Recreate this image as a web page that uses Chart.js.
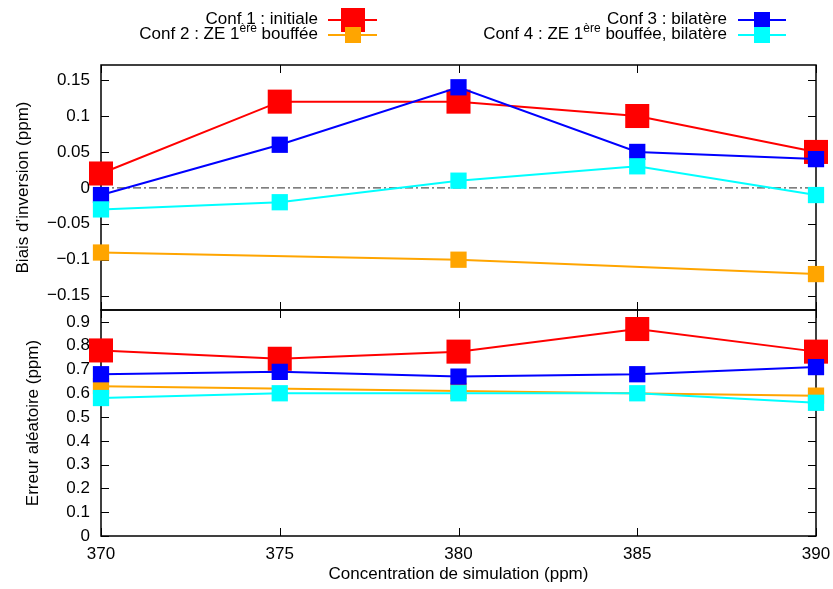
<!DOCTYPE html>
<html>
<head>
<meta charset="utf-8">
<script src="https://cdn.jsdelivr.net/npm/chart.js"></script>
<style>
  html, body { margin: 0; padding: 0; background: #fff; }
  #wrap { position: relative; width: 833px; height: 589px; overflow: hidden; }
  #chart { position: absolute; left: 0; top: 0; }
  .lg-text { position: absolute; font: 17px "Liberation Sans", Arial, sans-serif; color: #000; white-space: nowrap; line-height: 18px; text-align: right; }
  .lg-text sup { font-size: 12px; line-height: 0; vertical-align: 7px; }
  .lg-line { position: absolute; height: 2px; }
  .lg-mark { position: absolute; }
</style>
</head>
<body>
<div id="wrap">
  <canvas id="chart" width="833" height="589"></canvas>
</div>
<script>
// x values (ppm)
const concentrations = [370, 375, 380, 385, 390];
const xTicks = [370, 375, 380, 385, 390];
const biasTicks = [-0.15, -0.1, -0.05, 0, 0.05, 0.1, 0.15];
const errTicks = [0, 0.1, 0.2, 0.3, 0.4, 0.5, 0.6, 0.7, 0.8, 0.9];

const seriesNames = [
  'Conf 1 : initiale',
  'Conf 2 : ZE 1<sup>ère</sup> bouffée',
  'Conf 3 : bilatère',
  'Conf 4 : ZE 1<sup>ère</sup> bouffée, bilatère'
];
const seriesColors = ['#ff0000', '#ffa500', '#0000ff', '#00ffff'];

// biais d'inversion (ppm)
const bias1 = [0.02, 0.12, 0.12, 0.10, 0.05];
const bias2 = [-0.09, null, -0.10, null, -0.12];
const bias3 = [-0.01, 0.06, 0.14, 0.05, 0.04];
const bias4 = [-0.03, -0.02, 0.01, 0.03, -0.01];

// erreur aleatoire (ppm)
const err1 = [0.78, 0.745, 0.775, 0.87, 0.775];
const err2 = [0.63, null, 0.61, null, 0.59];
const err3 = [0.68, 0.69, 0.67, 0.68, 0.71];
const err4 = [0.58, 0.60, 0.60, 0.60, 0.56];

const FONT = '"Liberation Sans", Arial, sans-serif';
const markSize = [17, 11.5, 11.5, 11.5];   // point radius per series

function pts(vals){
  return concentrations.map((x, i) => ({ x: x, y: vals[i] })).filter(p => p.y !== null);
}

function series(i, vals, axis){
  return {
    label: seriesNames[i].replace(/<[^>]+>/g, ''),
    data: pts(vals),
    yAxisID: axis,
    borderColor: seriesColors[i],
    backgroundColor: seriesColors[i],
    borderWidth: 2,
    pointStyle: 'rect',
    pointRadius: markSize[i],
    pointHoverRadius: markSize[i],
    pointBorderWidth: 0,
    pointBackgroundColor: seriesColors[i],
    spanGaps: true,
    clip: false,
    order: 4 - i
  };
}

const datasets = [
  {
    label: 'zero',
    data: [{ x: xTicks[0], y: 0 }, { x: xTicks[xTicks.length - 1], y: 0 }],
    yAxisID: 'yBias',
    borderColor: '#555',
    borderWidth: 1.3,
    borderDash: [8, 3, 2, 3],
    pointRadius: 0,
    order: 10
  },
  series(0, bias1, 'yBias'), series(1, bias2, 'yBias'), series(2, bias3, 'yBias'), series(3, bias4, 'yBias'),
  series(0, err1, 'yErr'), series(1, err2, 'yErr'), series(2, err3, 'yErr'), series(3, err4, 'yErr')
];

const fmt = v => String(v).replace('-', '\u2212');

// gnuplot-style frame with inward ticks on every side of each panel
const framePlugin = {
  id: 'frame',
  beforeDatasetsDraw(chart){
    const c = chart.ctx, area = chart.chartArea, xs = chart.scales.x;
    const tl = 8;
    c.save();
    c.strokeStyle = '#000';
    [['yBias', biasTicks], ['yErr', errTicks]].forEach(([id, tks]) => {
      const s = chart.scales[id];
      c.lineWidth = 1.5;
      c.strokeRect(area.left, s.top, area.right - area.left, s.bottom - s.top);
      c.lineWidth = 1;
      c.beginPath();
      tks.forEach(v => {
        const y = Math.round(s.getPixelForValue(v)) + 0.5;
        c.moveTo(area.left, y); c.lineTo(area.left + tl, y);
        c.moveTo(area.right, y); c.lineTo(area.right - tl, y);
      });
      xTicks.forEach(v => {
        const x = Math.round(xs.getPixelForValue(v)) + 0.5;
        c.moveTo(x, s.top); c.lineTo(x, s.top + tl);
        c.moveTo(x, s.bottom); c.lineTo(x, s.bottom - tl);
      });
      c.stroke();
    });
    c.restore();
  }
};

Chart.defaults.font.family = FONT;
Chart.defaults.font.size = 17;
Chart.defaults.color = '#000';

new Chart(document.getElementById('chart'), {
  type: 'line',
  data: { datasets: datasets },
  options: {
    responsive: false,
    animation: false,
    events: [],
    layout: { padding: { top: 65, right: 17, bottom: 0, left: 0 } },
    plugins: { legend: { display: false }, tooltip: { enabled: false } },
    scales: {
      x: {
        type: 'linear',
        min: 370, max: 390,
        grid: { display: false, drawTicks: false },
        border: { display: false },
        afterBuildTicks: s => { s.ticks = xTicks.map(v => ({ value: v })); },
        afterFit: s => { s.height = 53; s.paddingRight = 0; s.paddingLeft = 0; },
        ticks: { padding: 8, autoSkip: false, callback: v => fmt(v), maxRotation: 0 },
        title: { display: true, text: 'Concentration de simulation (ppm)', padding: { top: 0, bottom: 4 }, font: { size: 17 } }
      },
      yErr: {
        type: 'linear',
        position: 'left',
        stack: 'panels',
        stackWeight: 226,
        min: 0, max: 0.95,
        grid: { display: false, drawTicks: false },
        border: { display: false },
        afterBuildTicks: s => { s.ticks = errTicks.map(v => ({ value: v })); },
        afterFit: s => { s.width = 101; },
        ticks: { padding: 11, autoSkip: false, callback: v => fmt(v) },
        title: { display: true, text: 'Erreur al\u00e9atoire (ppm)', padding: { top: 23, bottom: 0 }, font: { size: 17 } }
      },
      yBias: {
        type: 'linear',
        position: 'left',
        stack: 'panels',
        stackWeight: 245,
        min: -0.17, max: 0.171,
        grid: { display: false, drawTicks: false },
        border: { display: false },
        afterBuildTicks: s => { s.ticks = biasTicks.map(v => ({ value: v })); },
        afterFit: s => { s.width = 101; },
        ticks: { padding: 11, autoSkip: false, callback: v => fmt(v) },
        title: { display: true, text: 'Biais d\u2019inversion (ppm)', padding: { top: 13, bottom: 0 }, font: { size: 17 } }
      }
    }
  },
  plugins: [framePlugin]
});

// legend (two columns, text right-aligned before the sample)
const legendPos = [
  { right: 318, y: 19.5, x1: 328, x2: 377 },
  { right: 318, y: 35, x1: 328, x2: 377 },
  { right: 727, y: 19.5, x1: 738, x2: 786 },
  { right: 727, y: 35, x1: 738, x2: 786 }
];
const wrap = document.getElementById('wrap');
seriesNames.forEach((name, i) => {
  const p = legendPos[i];
  const t = document.createElement('div');
  t.className = 'lg-text';
  t.innerHTML = name;
  t.style.right = (833 - p.right) + 'px';
  t.style.top = (p.y - 10) + 'px';
  wrap.appendChild(t);
  const l = document.createElement('div');
  l.className = 'lg-line';
  l.style.left = p.x1 + 'px';
  l.style.width = (p.x2 - p.x1) + 'px';
  l.style.top = (p.y - 1) + 'px';
  l.style.background = seriesColors[i];
  wrap.appendChild(l);
  const side = Math.round(markSize[i] * Math.SQRT2);
  const m = document.createElement('div');
  m.className = 'lg-mark';
  m.style.width = side + 'px';
  m.style.height = side + 'px';
  m.style.left = ((p.x1 + p.x2) / 2 - side / 2) + 'px';
  m.style.top = (p.y - side / 2) + 'px';
  m.style.background = seriesColors[i];
  wrap.appendChild(m);
});
</script>
</body>
</html>
